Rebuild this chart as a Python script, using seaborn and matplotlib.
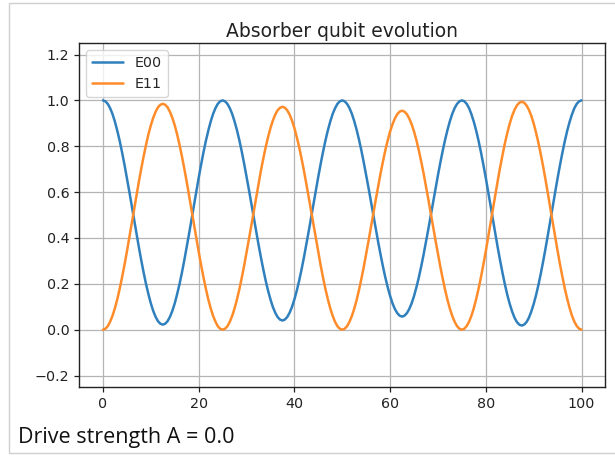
import numpy as np
import pandas as pd
import matplotlib
matplotlib.use("Agg")
import matplotlib.pyplot as plt
from matplotlib.patches import Rectangle
import seaborn as sns

time = [i * 0.5 for i in range(201)]

e00 = [
    # 0 .. 24.5
    1.000, 0.996, 0.985, 0.966, 0.940, 0.907, 0.867, 0.823, 0.773, 0.719, 0.662, 0.603, 0.542,
    0.480, 0.419, 0.360, 0.303, 0.249, 0.199, 0.155, 0.115, 0.082, 0.056, 0.037, 0.026, 0.022,
    0.026, 0.037, 0.056, 0.082, 0.115, 0.155, 0.199, 0.249, 0.303, 0.360, 0.419, 0.480,
    0.542, 0.603, 0.662, 0.719, 0.773, 0.823, 0.867, 0.907, 0.940, 0.966, 0.985, 0.996,
    # 25 .. 49.5
    1.000, 0.996, 0.985, 0.966, 0.941, 0.908, 0.870, 0.826, 0.777, 0.724, 0.668, 0.610, 0.550,
    0.490, 0.430, 0.372, 0.316, 0.263, 0.214, 0.170, 0.132, 0.099, 0.074, 0.055, 0.044, 0.040,
    0.044, 0.055, 0.074, 0.099, 0.132, 0.170, 0.214, 0.263, 0.316, 0.372, 0.430, 0.490,
    0.550, 0.610, 0.668, 0.724, 0.777, 0.826, 0.870, 0.908, 0.941, 0.966, 0.985, 0.996,
    # 50 .. 74.5
    1.000, 0.996, 0.985, 0.967, 0.942, 0.910, 0.872, 0.829, 0.781, 0.729, 0.674, 0.617, 0.558,
    0.499, 0.440, 0.383, 0.328, 0.276, 0.228, 0.185, 0.147, 0.115, 0.090, 0.072, 0.061, 0.057,
    0.061, 0.072, 0.090, 0.115, 0.147, 0.185, 0.228, 0.276, 0.328, 0.383, 0.440, 0.499,
    0.558, 0.617, 0.674, 0.729, 0.781, 0.829, 0.872, 0.910, 0.942, 0.967, 0.985, 0.996,
    # 75 .. 99.5
    1.000, 0.996, 0.985, 0.966, 0.939, 0.906, 0.867, 0.822, 0.772, 0.718, 0.661, 0.601, 0.540,
    0.478, 0.417, 0.357, 0.300, 0.246, 0.196, 0.151, 0.112, 0.079, 0.052, 0.033, 0.022, 0.018,
    0.022, 0.033, 0.052, 0.079, 0.112, 0.151, 0.196, 0.246, 0.300, 0.357, 0.417, 0.478,
    0.540, 0.601, 0.661, 0.718, 0.772, 0.822, 0.867, 0.906, 0.939, 0.966, 0.985, 0.996,
    # 100
    1.000,
]

e11 = [
    # 0 .. 24.5
    0.000, 0.004, 0.015, 0.035, 0.061, 0.094, 0.133, 0.179, 0.229, 0.283, 0.340, 0.400, 0.462,
    0.523, 0.585, 0.645, 0.702, 0.756, 0.806, 0.852, 0.891, 0.924, 0.950, 0.970, 0.981, 0.985,
    0.981, 0.970, 0.950, 0.924, 0.891, 0.852, 0.806, 0.756, 0.702, 0.645, 0.585, 0.523,
    0.462, 0.400, 0.340, 0.283, 0.229, 0.179, 0.133, 0.094, 0.061, 0.035, 0.015, 0.004,
    # 25 .. 49.5
    0.000, 0.004, 0.015, 0.034, 0.060, 0.093, 0.132, 0.176, 0.226, 0.279, 0.336, 0.395, 0.455,
    0.517, 0.577, 0.636, 0.693, 0.746, 0.796, 0.840, 0.879, 0.912, 0.938, 0.957, 0.968, 0.972,
    0.968, 0.957, 0.938, 0.912, 0.879, 0.840, 0.796, 0.746, 0.693, 0.636, 0.577, 0.517,
    0.455, 0.395, 0.336, 0.279, 0.226, 0.176, 0.132, 0.093, 0.060, 0.034, 0.015, 0.004,
    # 50 .. 74.5
    0.000, 0.004, 0.015, 0.034, 0.059, 0.091, 0.129, 0.173, 0.222, 0.274, 0.330, 0.388, 0.448,
    0.507, 0.567, 0.625, 0.681, 0.733, 0.782, 0.826, 0.864, 0.896, 0.921, 0.940, 0.951, 0.955,
    0.951, 0.940, 0.921, 0.896, 0.864, 0.826, 0.782, 0.733, 0.681, 0.625, 0.567, 0.507,
    0.448, 0.388, 0.330, 0.274, 0.222, 0.173, 0.129, 0.091, 0.059, 0.034, 0.015, 0.004,
    # 75 .. 99.5
    0.000, 0.004, 0.016, 0.035, 0.061, 0.095, 0.135, 0.180, 0.231, 0.285, 0.343, 0.404, 0.466,
    0.528, 0.590, 0.651, 0.709, 0.763, 0.814, 0.859, 0.899, 0.933, 0.959, 0.978, 0.990, 0.994,
    0.990, 0.978, 0.959, 0.933, 0.899, 0.859, 0.814, 0.763, 0.709, 0.651, 0.590, 0.528,
    0.466, 0.404, 0.343, 0.285, 0.231, 0.180, 0.135, 0.095, 0.061, 0.035, 0.016, 0.004,
    # 100
    0.000,
]

series_names = ["E00", "E11"]
yticks = [-0.2, 0.0, 0.2, 0.4, 0.6, 0.8, 1.0, 1.2]
xticks = [0, 20, 40, 60, 80, 100]
title = "Absorber qubit evolution"
caption = "Drive strength A = 0.0"

# ---- build long table ----
df = pd.DataFrame({
    "t": time * 2,
    "value": e00 + e11,
    "series": [series_names[0]] * len(time) + [series_names[1]] * len(time),
})

sns.set_theme(style="ticks", rc={
    "axes.grid": True,
    "grid.color": "#b4b4b4",
    "grid.linewidth": 0.9,
    "axes.edgecolor": "#222222",
    "axes.linewidth": 1.0,
    "xtick.color": "#222222",
    "ytick.color": "#222222",
})
plt.rcParams["font.family"] = ["DejaVu Sans"]

fig = plt.figure(figsize=(6.15, 4.58), dpi=100)
ax = fig.add_axes([0.1285, 0.155, 0.856, 0.751])

sns.lineplot(data=df, x="t", y="value", hue="series",
             palette=["#2f80bd", "#ff8c2a"], linewidth=1.8, ax=ax)

ax.set_xlim(-5, 105)
ax.set_ylim(-0.25, 1.25)
ax.set_xticks(xticks)
ax.set_yticks(yticks)
ax.set_yticklabels([f"{v:.1f}".replace("-", "\u2212") for v in yticks])
ax.tick_params(labelsize=10.3, length=3.5, width=0.9, labelcolor="#222222")
ax.set_xlabel("")
ax.set_ylabel("")
ax.set_title(title, fontsize=13.5, color="#222222", pad=4)

leg = ax.legend(loc="upper left", fontsize=10.3, frameon=True, framealpha=0.8,
                edgecolor="#cccccc", fancybox=True, borderaxespad=0.5,
                handlelength=2.2)
leg.set_title(None)

fig.text(18 / 615, 1 - 438 / 458, caption, fontsize=15.5,
         family=["Open Sans", "DejaVu Sans"],
         color="#111111", va="center", ha="left")

fig.patches.append(Rectangle((9 / 615, 1 - 453 / 458), 0.99, 450 / 458,
                             transform=fig.transFigure, fill=False,
                             edgecolor="#cfcfcf", linewidth=1.0))

fig.savefig("out.png", dpi=100)
